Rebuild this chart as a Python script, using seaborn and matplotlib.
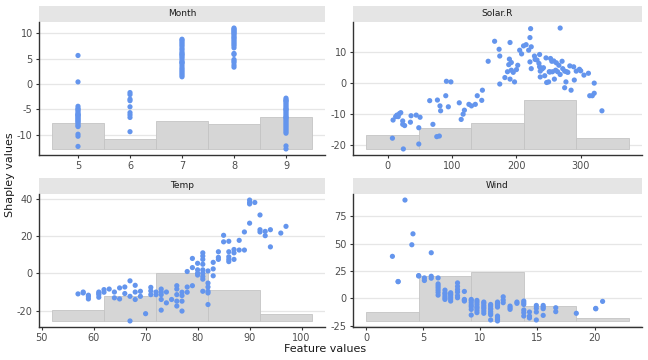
import numpy as np
import pandas as pd
import matplotlib
matplotlib.use("Agg")
import matplotlib.pyplot as plt
from matplotlib.patches import Rectangle
import seaborn as sns

# ---- data (airquality SHAP dependence) ----
month_levels = [5, 6, 7, 8, 9]
shap_m5 = [5.6, 0.4, -4.4, -4.8, -5.2, -5.5, -5.8, -6.0, -6.2, -6.4, -6.6, -6.8, -7.0, -7.2,
           -7.4, -7.6, -7.9, -8.2, -8.4, -6.1, -5.0, -9.9, -10.3, -12.3]
shap_m6 = [-1.7, -2.1, -3.0, -3.3, -4.5, -5.65, -6.1, -6.6, -9.4]
shap_m7 = [8.8, 8.6, 8.3, 8.0, 7.7, 7.4, 7.0, 6.7, 6.3, 6.0, 5.6, 5.3, 5.0, 4.6, 4.3, 4.0,
           3.6, 3.2, 2.9, 2.6, 2.3, 2.0, 1.7, 1.4, 5.8, 4.2]
shap_m8 = [11.0, 10.8, 10.6, 10.4, 10.2, 10.0, 9.8, 9.5, 9.2, 9.0, 8.7, 8.4, 8.1, 7.8, 7.5,
           7.1, 6.0, 5.8, 4.8, 4.5, 4.2, 3.7, 3.3]
shap_m9 = [-2.8, -3.1, -3.4, -3.7, -4.0, -4.3, -4.6, -4.9, -5.2, -5.5, -5.8, -6.1, -6.4, -6.7,
           -7.0, -7.3, -7.6, -7.9, -8.2, -8.5, -8.8, -9.1, -9.4, -9.7, -3.3, -5.0, -6.6, -12.2, -12.8]
month_edges = [4.5, 5.5, 6.5, 7.5, 8.5, 9.5]
month_counts = [24, 9, 26, 23, 29]

solar_x = [7, 8, 12, 14, 18, 20, 16, 23, 23, 26,
           24, 35, 36, 44, 48, 48, 50, 65, 70, 77,
           76, 80, 81, 82, 90, 91, 98, 94, 111, 114,
           117, 119, 126, 130, 136, 139, 146, 147, 156, 166,
           173, 174, 174, 182, 186, 188, 189, 190, 190, 192,
           192, 197, 200, 202, 205, 211, 215, 219, 221, 223,
           221, 222, 223, 228, 229, 236, 235, 236, 237, 237,
           242, 247, 250, 251, 253, 255, 256, 258, 259, 261,
           264, 266, 268, 271, 272, 275, 275, 277, 278, 283,
           285, 289, 290, 293, 298, 305, 312, 314, 318, 321,
           321, 333, 195, 208, 232, 240, 244, 252, 262, 268, 280, 246, 300]
solar_shap = [-17.9, -12.0, -10.9, -10.4, -9.9, -9.6, -10.9, -12.3, -13.4, -13.8,
              -21.4, -12.7, -10.6, -10.4, -19.8, -14.5, -11.1, -5.7, -13.4, -5.5,
              -17.4, -17.2, -7.4, -9.0, -4.1, 0.6, 0.4, -7.7, -6.4, -11.8,
              -10.1, -8.8, -6.9, -7.4, -6.9, -4.1, -5.6, -2.3, 7.1, 13.6,
              11.0, 8.8, -0.3, 1.8, 3.7, 6.0, 7.8, 13.2, 1.3, 4.2,
              6.7, 0.4, 4.4, 5.8, 10.7, 12.1, 12.5, 10.7, 6.9, 4.7,
              14.8, 17.7, 11.8, 8.8, 7.7, 9.3, 6.4, 5.3, 3.9, 2.0,
              5.0, 0.2, 0.4, 3.7, 8.0, 7.1, 3.7, 7.2, 1.3, 4.2,
              3.7, 5.8, 17.9, 7.1, 4.7, 3.9, -1.5, 0.4, 3.7, 5.6,
              -2.3, 5.3, 1.0, 3.9, 4.5, 2.6, 3.2, -4.1, -4.1, 0.0,
              -3.3, -9.0, 3.5, 9.5, 7.5, 4.6, 2.4, 3.6, 6.6, 2.8, 3.5, 8.2, 4.0]
solar_edges = [-33.9, 47.9, 129.6, 211.4, 293.1, 374.9]
solar_counts = [13, 19, 24, 45, 10]

temp_x = [57, 58, 59, 59, 61, 61, 61, 62, 62, 63,
          64, 64, 65, 65, 66, 66, 67, 67, 67, 68,
          68, 68, 69, 69, 70, 71, 71, 72, 72, 73,
          73, 73, 73, 73, 74, 74, 75, 76, 76, 76,
          76, 76, 77, 77, 77, 77, 78, 78, 78, 79,
          79, 79, 80, 80, 80, 81, 81, 81, 81, 81,
          81, 81, 81, 81, 82, 82, 82, 82, 82, 82,
          83, 83, 83, 84, 84, 84, 85, 85, 86, 86,
          86, 86, 86, 87, 87, 87, 88, 88, 89, 89,
          90, 90, 90, 90, 91, 92, 92, 92, 93, 93,
          94, 94, 96, 97, 58, 61, 59, 71, 80]
temp_shap = [-11.1, -10.1, -11.8, -13.8, -10.1, -11.5, -12.9, -8.8, -10.2, -8.5,
             -10.1, -13.2, -7.9, -13.8, -7.4, -10.9, -4.1, -12.4, -25.6, -6.5,
             -10.1, -14.1, -9.7, -12.4, -21.7, -7.6, -11.5, -10.1, -11.5, -8.5,
             -10.1, -11.5, -14.1, -19.8, -10.1, -15.9, -14.1, -6.7, -8.5, -11.5,
             -15.0, -17.6, -10.2, -12.0, -15.0, -20.3, -7.4, -10.2, 0.9, -6.7,
             3.0, 7.9, 1.8, 5.3, 0.0, 10.9, 9.2, 7.4, 4.8, 1.8,
             0.0, -1.8, -3.2, -9.7, -5.3, -7.4, -9.7, -10.6, -16.8, 1.2,
             5.8, 2.3, -1.4, 11.5, 8.5, 7.4, 20.3, 16.8, 17.1, 11.5,
             8.8, 7.4, 6.2, 12.7, 10.9, 7.4, 17.6, 12.4, 22.1, 12.4,
             39.2, 37.9, 37.1, 26.8, 37.9, 31.2, 23.3, 22.1, 22.4, 20.1,
             23.3, 14.1, 21.5, 25.1, -10.6, -10.8, -12.6, -9.5, -1.0]
temp_edges = [52, 62, 72, 82, 92, 102]
temp_counts = [10, 23, 44, 28, 6]

wind_x = [3.4, 4.1, 4.0, 2.3, 5.7, 2.8, 4.6, 5.1, 5.1, 5.7,
          6.3, 6.3, 6.3, 6.3, 6.3, 6.9, 6.9, 6.9, 6.9, 7.4,
          7.4, 7.4, 7.4, 8.0, 8.0, 8.0, 8.0, 8.6, 8.6, 8.6,
          9.2, 9.2, 9.2, 9.2, 9.2, 9.7, 9.7, 9.7, 9.7, 10.3,
          10.3, 10.3, 10.3, 10.9, 10.9, 10.9, 10.9, 11.5, 11.5, 11.5,
          11.5, 11.5, 11.5, 12.0, 12.0, 12.6, 12.6, 13.2, 13.8, 13.8,
          13.8, 13.8, 14.3, 14.3, 14.3, 14.9, 14.9, 14.9, 15.5, 15.5,
          15.5, 16.6, 16.6, 18.4, 20.1, 20.7,
          4.6, 2.8, 5.7, 6.3, 6.9, 6.9, 7.4, 7.4, 8.0, 8.0, 8.6, 9.2, 9.2, 6.3,
          9.7, 9.7, 9.7, 10.3, 10.3, 10.3, 10.9, 10.9, 10.9, 10.9, 11.5, 11.5, 11.5,
          12.0, 12.6, 13.2, 13.8, 13.8, 14.9, 15.5, 20.1]
wind_shap = [90, 59.1, 49.1, 38.5, 41.8, 15.5, 20.9, 18.8, 16.4, 20.3,
             18.8, 13.3, 9.7, 7.6, 3.0, 7.6, 5.2, 2.1, -0.9, 5.2,
             3.0, 1.2, -2.4, 14.2, 8.2, 5.8, 0.6, 6.4, -0.9, -2.4,
             -0.9, -3.9, -7.6, -10.0, -15.2, -1.8, -5.5, -7.6, -13.0, -3.3,
             -6.4, -9.4, -13.6, -7.0, -10.0, -13.6, -19.7, -3.3, -5.5, -7.9,
             -16.1, -19.1, -20.6, 1.5, -3.9, -7.0, -10.0, -3.3, -2.4, -5.5,
             -10.6, -16.1, -12.4, -16.1, -17.9, -6.4, -12.4, -19.7, -6.4, -9.4,
             -15.5, -8.5, -12.1, -13.6, -9.1, -2.7,
             20.5, 15.3, 18.5, 11.5, 4.0, 0.5, -0.5, 4.0, 2.5, 11.0, -1.5, -2.0, -6.0, 5.5,
             -3.5, -9.0, -11.0, -4.5, -8.0, -11.5, -5.5, -9.0, -12.0, -15.0, -4.5, -6.5, -17.5,
             -1.5, -8.5, -4.5, -4.0, -13.0, -9.0, -8.0, -9.5]
wind_edges = [0, 4.6, 9.2, 13.8, 18.4, 23.0]
wind_counts = [8, 41, 45, 14, 3]

month_shap_all = [shap_m5, shap_m6, shap_m7, shap_m8, shap_m9]
month_x = np.concatenate([np.full(len(s), m) for m, s in zip(month_levels, month_shap_all)])
month_shap = np.concatenate(month_shap_all)

panels = [
    ("Month", month_x, month_shap, month_edges, month_counts, [5, 6, 7, 8, 9], [-10, -5, 0, 5, 10]),
    ("Solar.R", solar_x, solar_shap, solar_edges, solar_counts, [0, 100, 200, 300], [-20, -10, 0, 10]),
    ("Temp", temp_x, temp_shap, temp_edges, temp_counts, [50, 60, 70, 80, 90, 100], [-20, 0, 20, 40]),
    ("Wind", wind_x, wind_shap, wind_edges, wind_counts, [0, 5, 10, 15, 20], [-25, 0, 25, 50, 75]),
]

sns.set_theme(style="white")
plt.rcParams["font.family"] = ["DejaVu Sans"]
plt.rcParams["axes.unicode_minus"] = False

W, H = 648, 360
fig = plt.figure(figsize=(W / 100, H / 100), dpi=100)
# panel boxes in pixels: x0, x1, y0(top), y1(bottom)
boxes = [(39, 325, 22, 155), (353, 642, 22, 155), (39, 325, 194, 327), (353, 642, 194, 327)]
strip_px = 16

for (name, xs, ys, edges, counts, xt, yt), (x0, x1, y0, y1) in zip(panels, boxes):
    ax = fig.add_axes([x0 / W, 1 - y1 / H, (x1 - x0) / W, (y1 - y0) / H])
    ax.use_sticky_edges = False
    ys = np.asarray(ys, dtype=float)
    counts = np.asarray(counts, dtype=float)
    edges = np.asarray(edges, dtype=float)
    base = ys.min()
    heights = counts / counts.sum() * (ys.max() - ys.min())
    ax.bar(edges[:-1], heights, width=np.diff(edges), bottom=base, align="edge",
           color="#d6d6d6", edgecolor="#c4c4c4", linewidth=0.6, zorder=2)
    df = pd.DataFrame({"x": xs, "y": ys})
    sns.scatterplot(data=df, x="x", y="y", ax=ax, color="#6495ed", s=14,
                    edgecolor="none", linewidth=0, zorder=3)
    ax.margins(0.05)
    ax.set_xticks(xt)
    ax.set_yticks(yt)
    ax.yaxis.grid(True, color="#e6e6e6", linewidth=0.9, zorder=0)
    ax.xaxis.grid(False)
    ax.set_axisbelow(True)
    for side in ["top", "right"]:
        ax.spines[side].set_visible(False)
    for side in ["left", "bottom"]:
        ax.spines[side].set_color("#333333")
        ax.spines[side].set_linewidth(1.0)
    ax.tick_params(axis="both", which="major", length=2.5, width=0.8, color="#333333",
                   labelsize=7, labelcolor="#4d4d4d", pad=2, bottom=True, left=True)
    ax.set_xlabel("")
    ax.set_ylabel("")
    sh = strip_px / (y1 - y0)
    ax.add_patch(Rectangle((0, 1.0), 1, sh, transform=ax.transAxes, clip_on=False,
                           facecolor="#e5e5e5", edgecolor="none"))
    ax.text(0.5, 1.0 + sh / 2, name, transform=ax.transAxes, ha="center", va="center",
            fontsize=6.5, color="#1a1a1a")

fig.text(325 / W, 1 - 349 / H, "Feature values", ha="center", va="center", fontsize=8, color="#1a1a1a")
fig.text(10 / W, 1 - 175 / H, "Shapley values", ha="center", va="center", rotation=90,
         fontsize=8, color="#1a1a1a")

fig.savefig("out.png", dpi=100)
